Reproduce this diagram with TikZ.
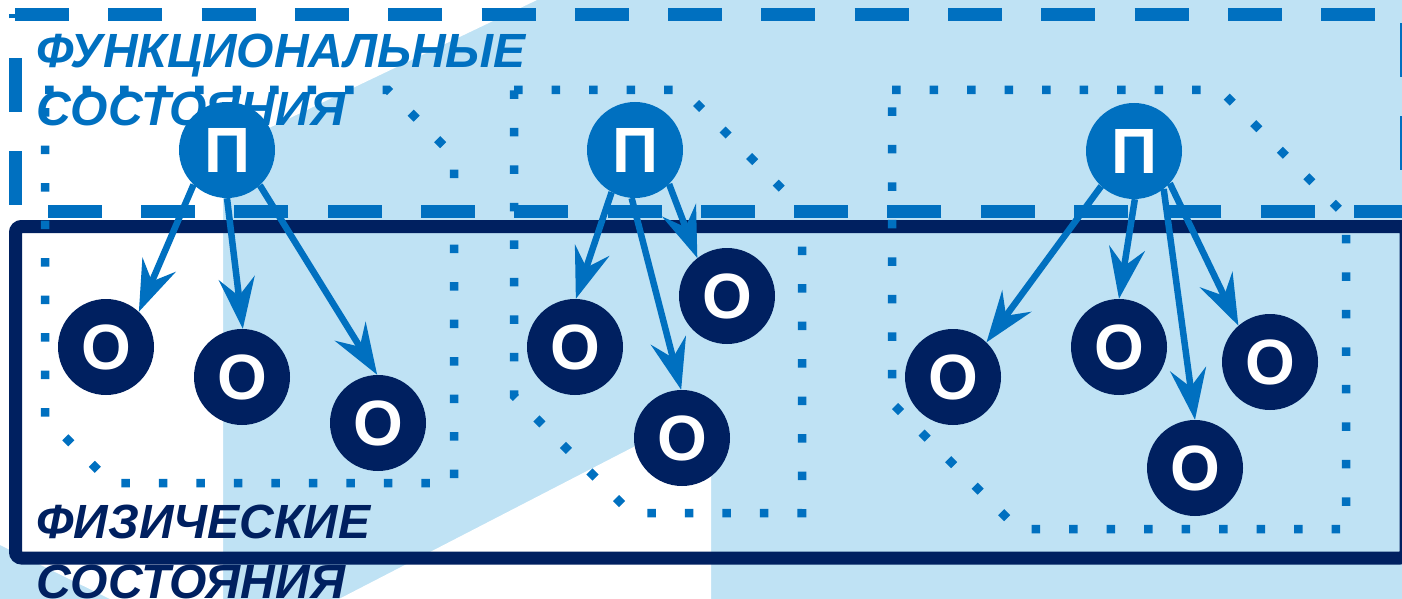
\documentclass[tikz,border=0pt]{standalone}
\usepackage{fontspec}
\setmainfont{Liberation Sans}
\usetikzlibrary{arrows.meta,positioning}
\definecolor{lblue}{HTML}{0070C0}
\definecolor{navy}{HTML}{002060}
\definecolor{pale}{HTML}{BFE2F4}
\tikzset{arr/.style={draw=lblue, line width=6.5pt, -{Stealth[length=51pt,width=36pt,inset=18pt]}}}

\begin{document}
\begin{tikzpicture}[x=1pt,y=-1pt,
    fstate/.style={circle,fill=lblue,text=white,minimum size=96pt,inner sep=0pt,font={\fontsize{64}{64}\selectfont\bfseries}},
    pstate/.style={circle,fill=navy,text=white,minimum size=96pt,inner sep=0pt,font={\fontsize{64}{64}\selectfont\bfseries}},
    caption/.style={anchor=base west,inner sep=0pt,font={\fontsize{48}{57}\selectfont\bfseries\itshape}},
    group/.style={draw=lblue,line width=8.5pt,dash pattern=on 8.5pt off 29pt}]
    \useasboundingbox (0,0) rectangle (1402,599);
    % background
    \fill[pale] (0,0) rectangle (1402,599);
    \fill[white] (0,0) -- (537,0) -- (223,150) -- (223,599) -- (110,599) -- (0,545) -- cycle;
    \fill[white] (711,407) -- (711,599) -- (339,599) -- cycle;

    % levels
    \draw[lblue,line width=13pt,dash pattern=on 54pt off 39.3pt] (15,14.5) -- (1406,14.5) -- (1406,211.5) -- (15,211.5) -- cycle;
    \draw[navy,line width=13pt,rounded corners=6pt] (15.5,226.5) rectangle (1406,558);

    % groups
    \draw[group] (45,90) -- (388,90) -- (454,156) -- (454,483) -- (111,483) -- (45,417) -- cycle;
    \draw[group] (514,90) -- (683,90) -- (802,209) -- (802,513) -- (631,513) -- (514,396) -- cycle;
    \draw[group] (892,90) -- (1220,90) -- (1346,216) -- (1346,529) -- (1018,529) -- (892,403) -- cycle;

    \node[caption,text=lblue] (func1) at (36,68) {ФУНКЦИОНАЛЬНЫЕ};
    \node[caption,text=lblue] (func2) at (36,125) {СОСТОЯНИЯ};
    \node[caption,text=navy] (phys1) at (36,538) {ФИЗИЧЕСКИЕ};
    \node[caption,text=navy] (phys2) at (36,598) {СОСТОЯНИЯ};

    % functional states
    \node[fstate] (p1) at (227,150) {П};
    \node[fstate] (p2) at (635,150) {П};
    \node[fstate] (p3) at (1134,151) {П};

    % physical states
    \node[pstate] (o1) at (106,347) {О};
    \node[pstate] (o2) at (242,377) {О};
    \node[pstate] (o3) at (378,423) {О};
    \node[pstate] (o4) at (575,347) {О};
    \node[pstate] (o5) at (727,296) {О};
    \node[pstate] (o6) at (682,438) {О};
    \node[pstate] (o7) at (953,377) {О};
    \node[pstate] (o8) at (1119,347) {О};
    \node[pstate] (o9) at (1270,362) {О};
    \node[pstate] (o10) at (1195,468) {О};

    \draw[arr] (p1.226) -- (o1.47);
    \draw[arr] (p1.270) -- (o2.89);
    \draw[arr] (p1.313) -- (o3.91);

    \draw[arr] (p2.241) -- (o4.89);
    \draw[arr] (p2.315) -- (o5.128);
    \draw[arr] (p2.266) -- (o6.91);

    \draw[arr] (p3.227) -- (o7.46);
    \draw[arr] (p3.271) -- (o8.90);
    \draw[arr] (p3.308) -- (o10.90);
    \draw[arr] (p3.318) -- (o9.131);
\end{tikzpicture}
\end{document}
